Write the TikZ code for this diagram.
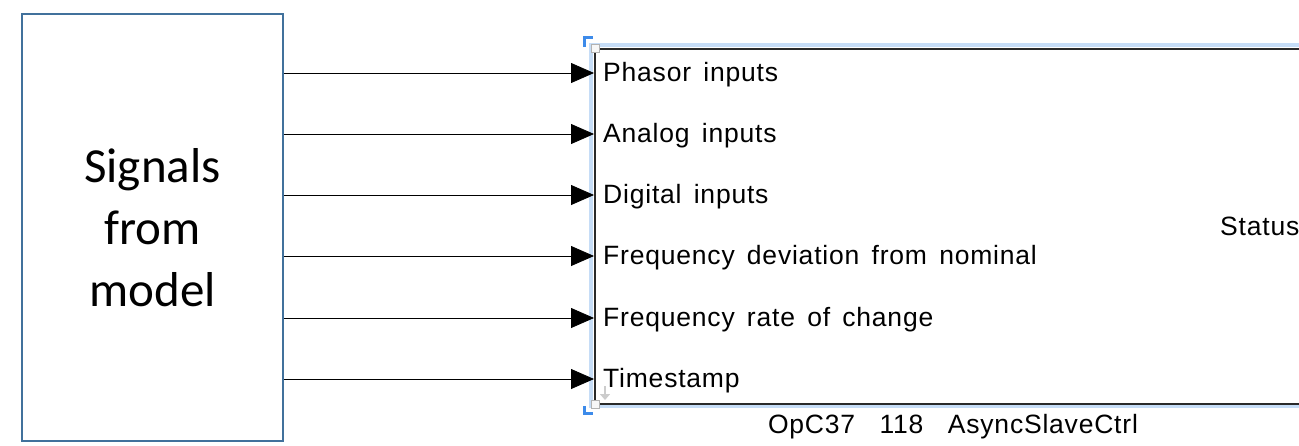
\documentclass[tikz,border=0pt]{standalone}
\usepackage{fontspec}
\setmainfont{Liberation Sans}
\newfontfamily\boxfont{Carlito}
\newfontfamily\portfont[LetterSpace=3,WordSpace=1.5]{Liberation Sans}
\usetikzlibrary{arrows.meta}
\definecolor{boxblue}{HTML}{41719C}
\definecolor{selblue}{HTML}{C6DDF7}
\definecolor{cornerblue}{HTML}{3D8BEA}
\definecolor{edgegray}{HTML}{2A2A2A}

\begin{document}
\begin{tikzpicture}[x=1pt,y=-1pt,
  sigbox/.style={draw=boxblue, line width=2.8pt, minimum width=261pt, minimum height=427pt,
    inner sep=0pt, align=center, font=\boxfont\fontsize{49}{62}\selectfont},
  portlabel/.style={anchor=base west, inner sep=0pt, font=\portfont\fontsize{26.5}{30}\selectfont},
  feed/.style={line width=0.8pt, -{Triangle[length=23pt,width=20pt]}},
  handle/.style={draw=gray!60, fill=gray!6, line width=0.8pt, minimum size=8pt, inner sep=0pt},
  corner/.style={draw=cornerblue, line width=3pt},
]
\useasboundingbox (0,0) rectangle (1299,445);

% source block
\node[sigbox] (src) at (152.5,227.5) {Signals\\from\\model};

% subsystem block with its selection halo
\draw[selblue, line width=4.5pt] (591,45) rectangle (1330,406);
\node[draw=edgegray, line width=2.2pt, anchor=north west, minimum width=730pt,
      minimum height=355pt, inner sep=0pt] (blk) at (594,48) {};

% selection corners and handles
\draw[corner] (584.5,47) -- (584.5,37.5) -- (593,37.5);
\draw[corner] (584.5,406) -- (584.5,413.5) -- (593,413.5);
\node[handle] (hnw) at (595,48) {};
\node[handle] (hsw) at (595,404) {};
\draw[gray!40, line width=2pt, -{Triangle[length=6pt,width=10pt]}] (605,386) -- (605,400);

% input ports
\foreach \y/\t/\n in {73/Phasor inputs/1, 134/Analog inputs/2, 195/Digital inputs/3,
    256/Frequency deviation from nominal/4, 318/Frequency rate of change/5, 379/Timestamp/6} {
  \coordinate (in\n) at (594,\y);
  \node[portlabel] (lab\n) at (603,\y+8) {\t};
  \draw[feed] (src.east |- in\n) -- (in\n);
}

% output port and block name
\node[portlabel] (status) at (1220,235) {Status};
\node[anchor=base, inner sep=0pt, font=\portfont\fontsize{26.5}{30}\selectfont] (name)
  at (953,433) {OpC37\ \ 118\ \ AsyncSlaveCtrl};
\end{tikzpicture}
\end{document}
